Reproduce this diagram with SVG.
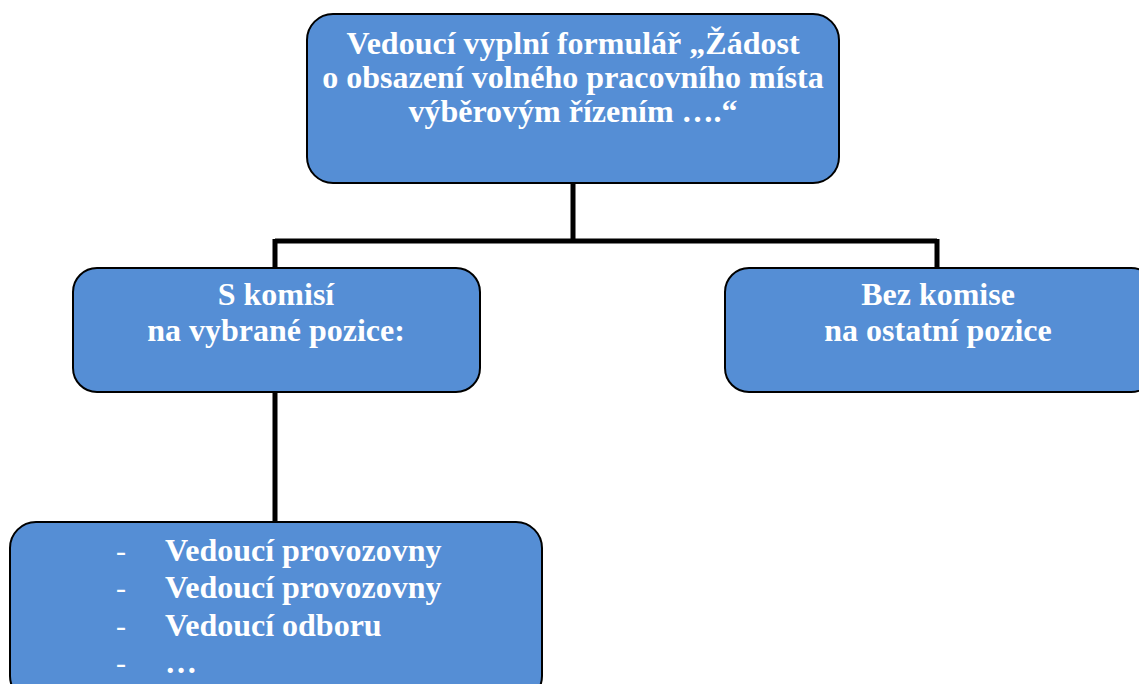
<svg xmlns="http://www.w3.org/2000/svg" width="1139" height="684" viewBox="0 0 1139 684">
<style>
.box{fill:#558ED5;stroke:#000;stroke-width:2}
.t{font-family:"Liberation Serif","Times New Roman",serif;font-weight:bold;font-size:32px;fill:#fff}
.c{text-anchor:middle}
.d{font-family:"Liberation Serif","Times New Roman",serif;font-size:30px;fill:#fff}
.ln{stroke:#000;stroke-width:5;fill:none}
</style>
<rect width="1139" height="684" fill="#fff"/>
<g id="connectors">
<path class="ln" d="M573 183 V241 M275 241 H937 M275 239 V268 M937 239 V268 M275 392 V522"/>
</g>
<g id="top">
<rect class="box" x="307" y="14" width="532" height="169" rx="26"/>
<text class="t c" x="573" y="54">Vedoucí vyplní formulář „Žádost</text>
<text class="t c" x="573" y="88">o obsazení volného pracovního místa</text>
<text class="t c" x="573" y="122">výběrovým řízením ….“</text>
</g>
<g id="left">
<rect class="box" x="73" y="268" width="407" height="124" rx="24"/>
<text class="t c" x="276" y="305">S komisí</text>
<text class="t c" x="276" y="341">na vybrané pozice:</text>
</g>
<g id="right">
<rect class="box" x="725" y="268" width="430" height="124" rx="24"/>
<text class="t c" x="938" y="305">Bez komise</text>
<text class="t c" x="938" y="341">na ostatní pozice</text>
</g>
<g id="bottom">
<rect class="box" x="10" y="522" width="532" height="180" rx="26"/>
<text class="d" x="116" y="561">-</text>
<text class="t" x="165" y="561">Vedoucí provozovny</text>
<text class="d" x="116" y="598">-</text>
<text class="t" x="165" y="598">Vedoucí provozovny</text>
<text class="d" x="116" y="636">-</text>
<text class="t" x="165" y="636">Vedoucí odboru</text>
<text class="d" x="116" y="673">-</text>
<text class="t" x="165" y="673">…</text>
</g>
</svg>
